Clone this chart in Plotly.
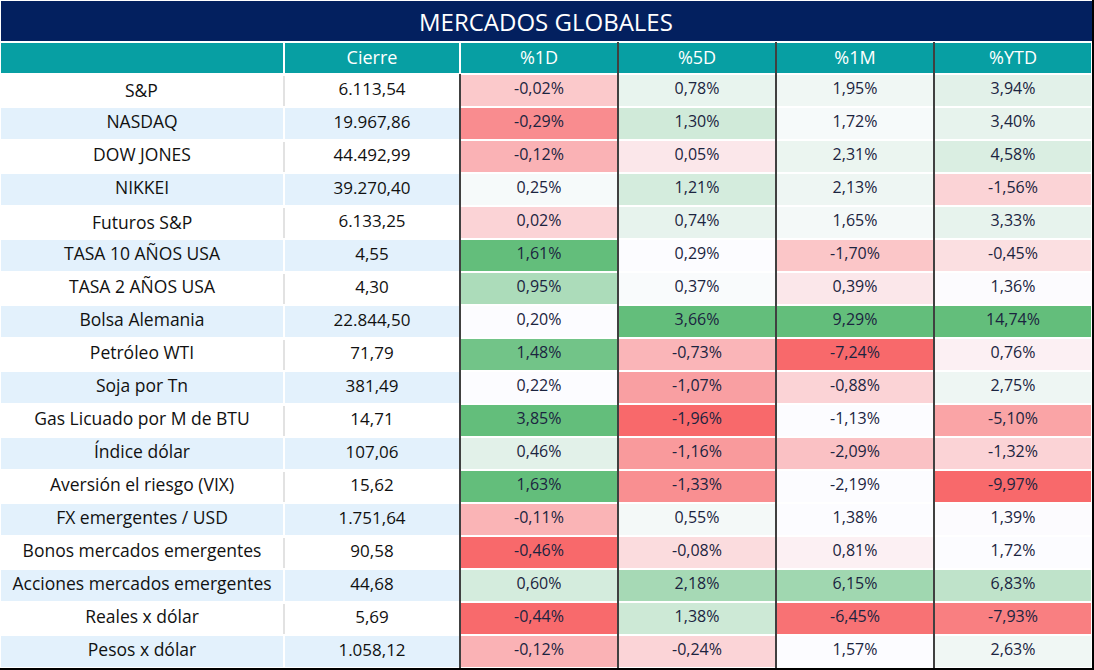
import plotly.graph_objects as go

W, H = 1094, 670

# ---------------- data ----------------
titulo = "MERCADOS GLOBALES"
encabezados = ["", "Cierre", "%1D", "%5D", "%1M", "%YTD"]
activos = ["S&P", "NASDAQ", "DOW JONES", "NIKKEI", "Futuros S&P", "TASA 10 AÑOS USA",
           "TASA 2 AÑOS USA", "Bolsa Alemania", "Petróleo WTI", "Soja por Tn",
           "Gas Licuado por M de BTU", "Índice dólar", "Aversión el riesgo (VIX)",
           "FX emergentes / USD", "Bonos mercados emergentes",
           "Acciones mercados emergentes", "Reales x dólar", "Pesos x dólar"]
cierre = [6113.54, 19967.86, 44492.99, 39270.40, 6133.25, 4.55, 4.30, 22844.50, 71.79,
          381.49, 14.71, 107.06, 15.62, 1751.64, 90.58, 44.68, 5.69, 1058.12]
var_1d = [-0.02, -0.29, -0.12, 0.25, 0.02, 1.61, 0.95, 0.20, 1.48, 0.22, 3.85, 0.46,
          1.63, -0.11, -0.46, 0.60, -0.44, -0.12]
var_5d = [0.78, 1.30, 0.05, 1.21, 0.74, 0.29, 0.37, 3.66, -0.73, -1.07, -1.96, -1.16,
          -1.33, 0.55, -0.08, 2.18, 1.38, -0.24]
var_1m = [1.95, 1.72, 2.31, 2.13, 1.65, -1.70, 0.39, 9.29, -7.24, -0.88, -1.13, -2.09,
          -2.19, 1.38, 0.81, 6.15, -6.45, 1.57]
var_ytd = [3.94, 3.40, 4.58, -1.56, 3.33, -0.45, 1.36, 14.74, 0.76, 2.75, -5.10, -1.32,
           -9.97, 1.39, 1.72, 6.83, -7.93, 2.63]

# ---------------- styles (heat shading; -1 red .. +1 green) ----
shade_1d = [-0.35, -0.76, -0.50, 0.04, -0.28, 1.0, 0.52, 0.0, 0.90, 0.0, 1.0, 0.17,
            1.0, -0.49, -1.0, 0.26, -0.99, -0.50]
shade_5d = [0.13, 0.29, -0.14, 0.26, 0.14, 0.0, 0.02, 1.0, -0.48, -0.63, -1.0, -0.67,
            -0.74, 0.05, -0.22, 0.56, 0.31, -0.27]
shade_1m = [0.08, 0.04, 0.11, 0.09, 0.05, -0.37, -0.14, 1.0, -1.0, -0.28, 0.0, -0.40,
            0.0, 0.0, -0.08, 0.60, -0.94, 0.0]
shade_ytd = [0.17, 0.14, 0.22, -0.28, 0.14, -0.20, -0.01, 1.0, -0.08, 0.09, -0.60, -0.28,
             -1.0, -0.01, 0.0, 0.40, -0.85, 0.08]

NAVY = "#03205f"
TEAL = "#079fa3"
LIGHT = "#e3f1fc"
RED = (248, 105, 107)
GREEN = (99, 190, 123)
WHITE = (252, 252, 255)
NAME_COLOR = "#111111"
PCT_COLOR = "#1b2440"


def shade_color(t):
    tgt = GREEN if t >= 0 else RED
    a = min(abs(t), 1.0)
    c = [round(WHITE[i] + (tgt[i] - WHITE[i]) * a) for i in range(3)]
    return "rgb(%d,%d,%d)" % tuple(c)


def fmt_num(v):
    s = f"{v:,.2f}"
    return s.replace(",", "X").replace(".", ",").replace("X", ".")


def fmt_pct(v):
    return fmt_num(v) + "%"


n = len(activos)
row_bg = ["white" if i % 2 == 0 else LIGHT for i in range(n)]

# plotly enlarges table rows whose text holds '&'; those names are drawn as
# annotations over their (empty) cells instead, so every row keeps the same height
amp_rows = [i for i, a in enumerate(activos) if "&" in a]
name_cells = ["" if i in amp_rows else a for i, a in enumerate(activos)]

cell_values = [name_cells, [fmt_num(v) for v in cierre],
               [fmt_pct(v) for v in var_1d], [fmt_pct(v) for v in var_5d],
               [fmt_pct(v) for v in var_1m], [fmt_pct(v) for v in var_ytd]]
cell_fill = [row_bg, row_bg,
             [shade_color(t) for t in shade_1d], [shade_color(t) for t in shade_5d],
             [shade_color(t) for t in shade_1m], [shade_color(t) for t in shade_ytd]]

col_px = [284, 176, 158, 158, 158, 158]
TITLE_H = 42
HEAD_H = 32
ROW_H = 33
FONT = "Open Sans"
NAME_SIZE = 17.5

fig = go.Figure(go.Table(
    domain=dict(x=[0, sum(col_px) / W], y=[0, 1 - TITLE_H / H]),
    columnwidth=col_px,
    header=dict(values=encabezados, fill_color=TEAL, height=HEAD_H,
                line=dict(color="white", width=2), align="center",
                font=dict(family=FONT, size=18, color="white")),
    cells=dict(values=cell_values, fill_color=cell_fill, height=ROW_H,
               line=dict(color="white", width=2), align="center",
               font=dict(family=FONT, size=[NAME_SIZE, 17, 16, 16, 16, 16],
                         color=[NAME_COLOR, NAME_COLOR, PCT_COLOR, PCT_COLOR, PCT_COLOR, PCT_COLOR])),
))


def px_x(x):
    return x / W


def px_y(y):
    return 1 - y / H


shapes = []
# title bar
shapes.append(dict(type="rect", xref="paper", yref="paper", x0=px_x(1), x1=px_x(1092),
                   y0=px_y(41), y1=px_y(1), fillcolor=NAVY, line=dict(width=0)))
# vertical separators
edges = [sum(col_px[:k]) for k in range(len(col_px) + 1)]
body_top = TITLE_H + HEAD_H
body_bot = body_top + n * ROW_H
for k in (3, 4, 5):
    shapes.append(dict(type="line", xref="paper", yref="paper", x0=px_x(edges[k]), x1=px_x(edges[k]),
                       y0=px_y(TITLE_H), y1=px_y(body_bot), line=dict(color="black", width=1.5),
                       layer="above"))
shapes.append(dict(type="line", xref="paper", yref="paper", x0=px_x(edges[2]), x1=px_x(edges[2]),
                   y0=px_y(body_top), y1=px_y(body_bot), line=dict(color="black", width=1.5),
                   layer="above"))
# light grey separator between name and close on white rows
for i in range(0, n, 2):
    shapes.append(dict(type="line", xref="paper", yref="paper", x0=px_x(edges[1]), x1=px_x(edges[1]),
                       y0=px_y(body_top + i * ROW_H + 2), y1=px_y(body_top + (i + 1) * ROW_H - 1),
                       line=dict(color="#d9d9d9", width=1.5), layer="above"))
# outer dark border right / bottom
shapes.append(dict(type="line", xref="paper", yref="paper", x0=px_x(1093), x1=px_x(1093),
                   y0=0, y1=1, line=dict(color="black", width=2), layer="above"))
shapes.append(dict(type="line", xref="paper", yref="paper", x0=0, x1=1,
                   y0=px_y(669), y1=px_y(669), line=dict(color="black", width=2), layer="above"))

annotations = [dict(text=titulo, xref="paper", yref="paper", x=px_x(546), y=px_y(21),
                    showarrow=False, xanchor="center", yanchor="middle",
                    font=dict(family=FONT, size=24, color="white"))]
for i in amp_rows:
    annotations.append(dict(text=activos[i].replace("&", "&amp;"), xref="paper", yref="paper",
                            x=px_x(edges[1] / 2), y=px_y(body_top + i * ROW_H + 16),
                            showarrow=False, xanchor="center", yanchor="middle",
                            font=dict(family=FONT, size=NAME_SIZE, color=NAME_COLOR)))

fig.update_layout(
    width=W, height=H, margin=dict(l=0, r=0, t=0, b=0),
    paper_bgcolor="white", plot_bgcolor="white",
    shapes=shapes, annotations=annotations,
)

fig.write_html("out.html", config={"displayModeBar": False},
               post_script="document.body.style.margin='0';document.body.style.overflow='hidden';")
